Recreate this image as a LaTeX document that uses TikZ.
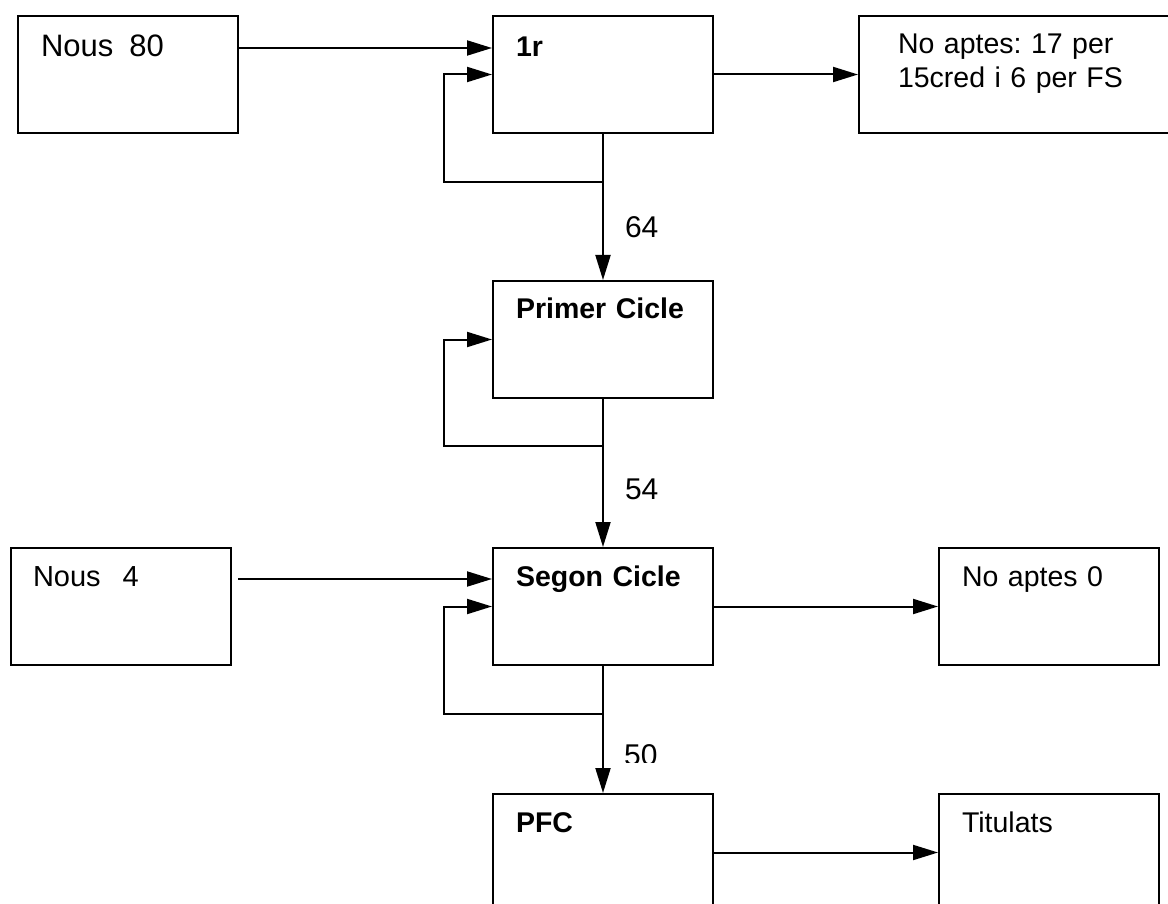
\documentclass[tikz,border=0pt]{standalone}
\usepackage{fontspec}
\setmainfont{Liberation Sans}
\usetikzlibrary{arrows.meta,positioning,calc}
\frenchspacing

\begin{document}
\begin{tikzpicture}[x=1pt, y=-1pt,
    bloc/.style   = {draw, line width=2pt, anchor=north west, inner xsep=23pt,
                     inner ysep=0pt, text width=174pt, align=left,
                     text height=38pt, text depth=79pt,
                     font=\fontsize{28.5}{34}\selectfont},
    titol/.style  = {bloc, font=\fontsize{28.5}{34}\selectfont\bfseries},
    fleche/.style = {-{Triangle[length=25pt,width=15pt]}, line width=2pt},
    nombre/.style = {anchor=west, inner sep=0pt, xshift=21pt,
                     font=\fontsize{30}{36}\selectfont},
]
\clip (0,0) rectangle (1168,904);
\node[bloc, text height=41pt, text depth=76pt,
      font=\fontsize{31}{36}\selectfont]      (nous80)   at (17,15)  {Nous\hspace{16pt}80};
\node[titol, text height=41pt, text depth=76pt] (first)  at (492,15) {1r};
\node[bloc, inner xsep=39pt, text width=242pt] (noapt17) at (858,15) {No aptes: 17 per\\15cred i 6 per FS};
\node[titol]   (primer)   at (492,280) {Primer Cicle};
\node[bloc, font=\fontsize{29}{34}\selectfont, inner xsep=22pt, text width=176pt]
               (nous4)    at (10,547)  {Nous\hspace{22pt}4};
\node[titol]   (segon)    at (492,547) {Segon Cicle};
\node[bloc]    (noapt0)   at (938,547) {No aptes 0};
\node[titol]   (pfc)      at (492,793) {PFC};
\node[bloc]    (titulats) at (938,793) {Titulats};

\draw[fleche] ($(nous80.north east)+(0,33)$) -- ($(first.north west)+(0,33)$);
\draw[fleche] (first.east) -- (noapt17.west);
\draw[fleche] (first.south) -- node[nombre, pos=0.64] (n64) {64} (primer.north);
\draw[fleche] ($(first.south)+(0,48)$) -| ($(first.west)+(-48,0)$) -- (first.west);

\draw[fleche] (primer.south) -- node[nombre, pos=0.61] (n54) {54} (segon.north);
\draw[fleche] ($(primer.south)+(0,47)$) -| ($(primer.west)+(-48,0)$) -- (primer.west);

\draw[fleche, shorten <=6pt] ($(nous4.north east)+(0,32)$) -- ($(segon.north west)+(0,32)$);
\draw[fleche] (segon.east) -- (noapt0.west);
\draw[fleche] (segon.south) -- (pfc.north);
\draw[fleche] ($(segon.south)+(0,48)$) -| ($(segon.west)+(-48,0)$) -- (segon.west);
\begin{scope}
  \clip (600,700) rectangle (700,762);
  \path (segon.south) -- node[nombre, pos=0.70] (n50) {50} (pfc.north);
\end{scope}

\draw[fleche] (pfc.east) -- (titulats.west);
\end{tikzpicture}
\end{document}
